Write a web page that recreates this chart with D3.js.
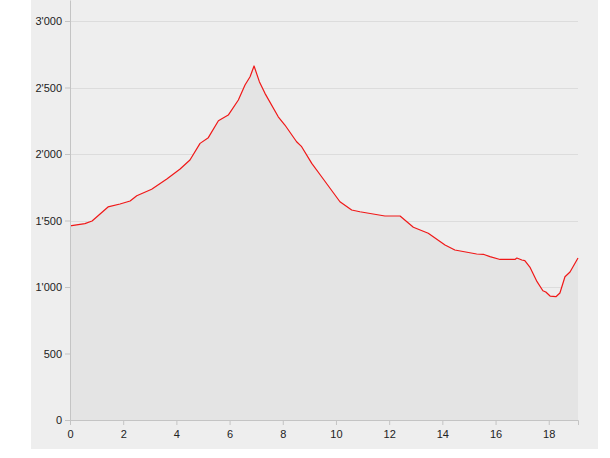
<!DOCTYPE html>
<html>
<head>
<meta charset="utf-8">
<script src="https://cdn.jsdelivr.net/npm/d3@7"></script>
<style>
  html, body { margin: 0; padding: 0; background: #fff; }
  svg { display: block; }
  text { font-family: "Liberation Sans", Arial, sans-serif; }
</style>
</head>
<body>
<svg id="chart" width="610" height="458"></svg>
<script>
// Distance (km) and elevation (m)
const distance = [0, 0.56, 0.83, 1.13, 1.43, 1.88, 2.26, 2.51, 3.07, 3.64, 4.14, 4.51, 4.89, 5.2, 5.58, 5.95, 6.33, 6.58, 6.77, 6.92, 7.12, 7.33, 7.83, 8.08, 8.52, 8.71, 9.09, 9.46, 10.15, 10.59, 10.9, 11.84, 12.41, 12.91, 13.47, 14.1, 14.47, 15.29, 15.54, 15.79, 16.17, 16.73, 16.8, 16.99, 17.1, 17.29, 17.56, 17.78, 17.89, 18.05, 18.27, 18.42, 18.61, 18.8, 19.1];
const elevation = [1459, 1477, 1496, 1549, 1602, 1624, 1647, 1686, 1735, 1812, 1887, 1955, 2080, 2123, 2250, 2293, 2406, 2519, 2581, 2662, 2544, 2456, 2280, 2218, 2092, 2055, 1930, 1829, 1641, 1579, 1566, 1534, 1534, 1449, 1404, 1316, 1278, 1248, 1246, 1228, 1207, 1207, 1218, 1203, 1198, 1150, 1040, 972, 962, 932, 927, 955, 1077, 1113, 1218];
const xTicks = [0, 2, 4, 6, 8, 10, 12, 14, 16, 18];
const yTicks = [0, 500, 1000, 1500, 2000, 2500, 3000];

(function () {
const data = distance.map((d, i) => ({ d, v: elevation[i] }));

const svg = d3.select("#chart");
const mLeft = 70, mRight = 578, mTop = 0, mBottom = 420;

svg.append("rect").attr("x", 31).attr("y", 0).attr("width", 567).attr("height", 449).attr("fill", "#eeeeee");

const x = d3.scaleLinear().domain([0, 19.1]).range([mLeft, mRight]);
const y = d3.scaleLinear().domain([0, 3158]).range([mBottom, mTop]);

const fmt = v => d3.format(",")(v).replace(/,/g, "'");

// grid
svg.append("g").selectAll("line").data(yTicks.filter(t => t > 0)).join("line")
  .attr("x1", mLeft).attr("x2", mRight)
  .attr("y1", d => Math.round(y(d)) + 0.5).attr("y2", d => Math.round(y(d)) + 0.5)
  .attr("stroke", "#dcdcdc").attr("stroke-width", 1);

// area
svg.append("path").datum(data)
  .attr("d", d3.area().x(p => x(p.d)).y0(mBottom).y1(p => y(p.v)))
  .attr("fill", "#e4e4e4");

// line
svg.append("path").datum(data)
  .attr("d", d3.line().x(p => x(p.d)).y(p => y(p.v)))
  .attr("fill", "none").attr("stroke", "#f01818").attr("stroke-width", 1.2)
  .attr("stroke-linejoin", "round");

// axes
const xAxis = svg.append("g").attr("transform", `translate(0,${mBottom})`)
  .call(d3.axisBottom(x).tickValues(xTicks).tickSize(5).tickSizeOuter(5).tickPadding(5));
const yAxis = svg.append("g").attr("transform", `translate(${mLeft},0)`)
  .call(d3.axisLeft(y).tickValues(yTicks).tickFormat(fmt).tickSize(5).tickSizeOuter(0).tickPadding(3));

[xAxis, yAxis].forEach(g => {
  g.select(".domain").attr("stroke", "#c4c4c4");
  g.selectAll(".tick line").attr("stroke", "#c4c4c4");
  g.selectAll(".tick text").attr("fill", "#222").style("font-size", "11px")
    .style("font-family", "'Liberation Sans', Arial, sans-serif");
});
})();
</script>
</body>
</html>
